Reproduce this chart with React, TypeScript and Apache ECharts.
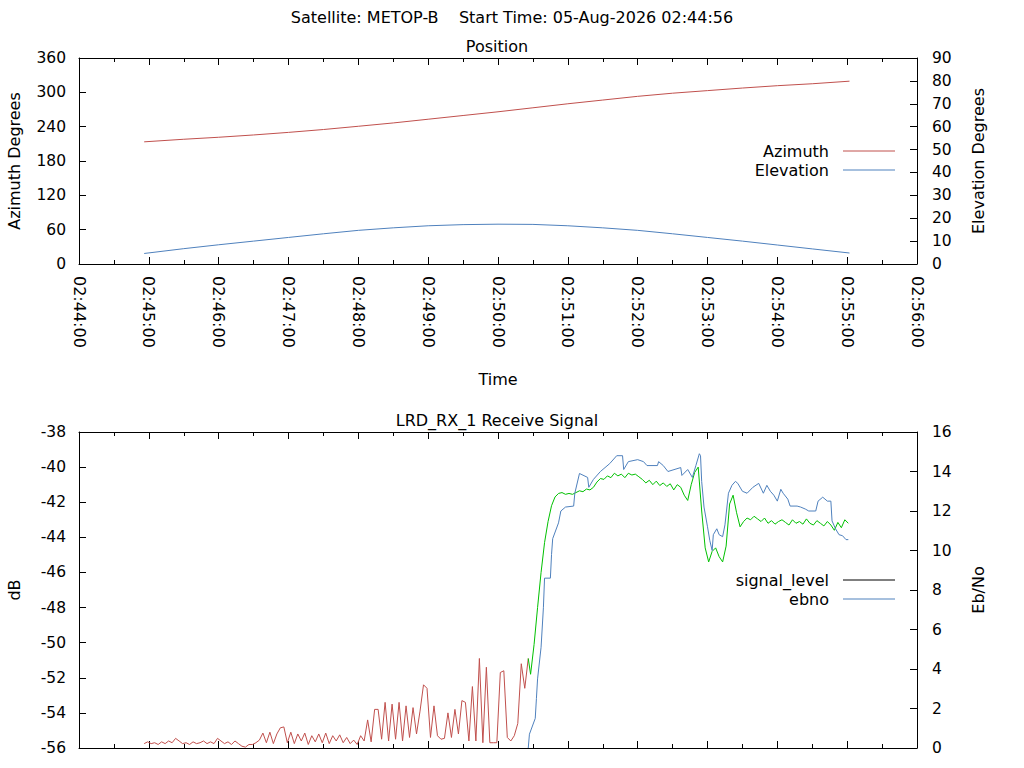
import * as echarts from "echarts";
import { useEffect, useRef } from "react";

// time axis: seconds after 02:44:00
const SAMPLE_STEP = 3;

const posTimes = [56, 90, 120, 150, 180, 210, 240, 270, 300, 330, 360, 390, 420, 450, 480, 510, 540, 570, 600, 630, 662];
const azimuth = [213.5, 218, 221.5, 225.5, 230, 235, 240.7, 246.5, 253, 259.5, 266, 273, 280, 286.5, 293, 298.5, 303, 307.5, 311.6, 315, 319.5];
const elevation = [4.6, 6.7, 8.4, 10.0, 11.6, 13.2, 14.7, 15.8, 16.7, 17.2, 17.4, 17.3, 16.7, 15.8, 14.7, 13.2, 11.6, 10.0, 8.3, 6.6, 4.8];

// signal level before lock (red), sampled every 3 s from 02:44:56
const UNLOCKED_START = 56;
const signalUnlocked = [
  -55.75, -55.65, -55.75, -55.7, -55.8, -55.65, -55.75, -55.6, -55.7, -55.45,
  -55.6, -55.75, -55.7, -55.8, -55.65, -55.75, -55.7, -55.6, -55.75, -55.65,
  -55.75, -55.45, -55.6, -55.75, -55.65, -55.8, -55.6, -55.75, -55.9, -55.95,
  -55.8, -55.8, -55.7, -55.55, -55.15, -55.7, -55.1, -55.75, -55.2, -54.85,
  -54.8, -55.7, -55.1, -55.75, -55.2, -55.6, -55.15, -55.8, -55.3, -55.65,
  -55.2, -55.7, -55.15, -55.75, -55.3, -55.6, -55.25, -55.7, -55.4, -55.75,
  -55.55, -55.8, -55.3, -55.6, -54.4, -55.65, -53.8, -53.8, -55.5, -53.4,
  -55.6, -53.5, -55.5, -53.4, -55.6, -53.6, -55.4, -53.7, -55.2, -53.9,
  -52.4, -52.6, -55.4, -53.6, -55.3, -55.5, -55.45, -54.0, -55.4, -53.8,
  -55.2, -53.3, -53.4, -55.6, -52.5, -55.6, -50.9, -55.7, -51.4, -55.7,
  -55.7, -55.7, -51.7, -51.6, -55.4, -55.6, -55.3, -54.6, -51.2, -52.6,
  -50.9,
];

// signal level once locked (green), sampled every 3 s
const LOCKED_START = 388;
const signalLocked = [
  -51.8, -50.1, -48.0, -46.0, -44.3, -43.1, -42.2, -41.7, -41.5, -41.45,
  -41.55, -41.5, -41.55, -41.45, -41.35, -41.4, -41.25, -41.3, -41.15, -40.85,
  -40.65, -40.7, -40.5, -40.6, -40.35, -40.5, -40.4, -40.6, -40.35, -40.45,
  -40.4, -40.55, -40.7, -40.9, -40.75, -41.0, -40.8, -41.05, -40.9, -41.1,
  -40.95, -41.3, -41.0, -41.15, -41.6, -41.9, -41.0, -40.3, -40.0, -42.5,
  -44.6, -45.4, -44.8, -44.6, -45.1, -45.4, -44.5, -42.1, -41.6, -42.6,
  -43.4, -43.1, -42.9, -43.0, -42.8, -42.95, -43.1, -42.9, -43.2, -43.05,
  -43.25, -43.1, -43.0, -43.15, -43.3, -43.0, -43.2, -43.1, -43.25, -42.95,
  -43.2, -43.3, -43.05, -43.2, -43.35, -43.1, -43.3, -43.6, -43.15, -43.45,
  -43.0, -43.2,
];

const ebnoTimes = [
  386, 387, 392, 393, 394, 397, 399, 400, 405, 406, 407, 412, 414, 418, 425, 426, 430, 437, 438, 442,
  448, 456, 462, 467, 468, 472, 480, 485, 488, 497, 498, 502, 506, 517, 518, 523, 527, 530, 533, 534,
  535, 537, 540, 542, 544, 545, 548, 550, 553, 555, 558, 561, 564, 566, 570, 574, 579, 584, 588, 591,
  594, 597, 600, 603, 605, 609, 611, 617, 620, 624, 627, 633, 635, 639, 643, 646, 647, 650, 653, 656,
  659, 661,
];
const ebnoValues = [
  0, 0.7, 1.5, 2.5, 3.5, 5.1, 7.1, 8.6, 8.6, 9.8, 10.6, 11.4, 12.0, 12.2, 12.25, 12.9, 13.9, 13.7, 13.2, 13.6,
  14.0, 14.4, 14.8, 14.8, 14.1, 14.5, 14.6, 14.5, 14.3, 14.3, 14.5, 14.3, 14.0, 14.2, 13.8, 14.1, 13.7, 14.3, 14.9, 14.8,
  13.5, 12.2, 11.2, 10.5, 10.0, 10.8, 11.1, 10.8, 10.7, 11.3, 12.9, 13.3, 13.5, 13.4, 13.0, 12.9, 13.2, 13.4, 12.9, 13.3,
  13.0, 12.8, 12.5, 13.1, 12.9, 12.6, 12.25, 12.25, 12.2, 12.1, 12.0, 12.0, 12.5, 12.7, 12.5, 12.5, 11.5, 11.1, 10.8, 10.75,
  10.55, 10.55,
];

const RED = "#c0504d";
const BLUE = "#4f81bd";
const GREEN = "#00c000";
const FONT = "DejaVu Sans";
const FS = 16;

const pad = (n: number) => String(n).padStart(2, "0");
const fmtTime = (v: number) => {
  const m = 44 + Math.floor(v / 60);
  const s = v % 60;
  return `02:${pad(m)}:${pad(s)}`;
};

const sampled = (start: number, values: number[]) =>
  values.map((v, i) => [start + i * SAMPLE_STEP, v]);

const txt = (text: string, x: number, y: number, align = "center") => ({
  type: "text",
  x,
  y,
  style: {
    text,
    fill: "#000",
    font: `${FS}px ${FONT}`,
    textAlign: align,
    textVerticalAlign: "middle",
  },
});

const legendLine = (y: number, color: string) => ({
  type: "line",
  shape: { x1: 843, y1: y, x2: 895, y2: y },
  style: { stroke: color, lineWidth: 1 },
});

function timeAxis(gridIndex: number, position: string, labels: boolean, name = "") {
  return {
    type: "value",
    gridIndex,
    position,
    min: 0,
    max: 720,
    interval: 60,
    name,
    nameLocation: "middle",
    nameGap: 107,
    nameTextStyle: { color: "#000", fontSize: FS, fontFamily: FONT },
    axisLine: { show: true, onZero: false, lineStyle: { color: "#000", width: 1 } },
    axisTick: { show: true, inside: true, length: 7, lineStyle: { color: "#000" } },
    minorTick: { show: true, splitNumber: 2, length: 4, lineStyle: { color: "#000" } },
    splitLine: { show: false },
    axisLabel: {
      show: labels,
      rotate: -90,
      margin: 12,
      color: "#000",
      fontSize: FS,
      fontFamily: FONT,
      formatter: fmtTime,
    },
  };
}

function valueAxis(gridIndex: number, position: string, min: number, max: number, interval: number, name: string, gap: number) {
  return {
    type: "value",
    gridIndex,
    position,
    min,
    max,
    interval,
    name,
    nameLocation: "middle",
    nameRotate: 90,
    nameGap: gap,
    nameTextStyle: { color: "#000", fontSize: FS, fontFamily: FONT },
    axisLine: { show: true, onZero: false, lineStyle: { color: "#000", width: 1 } },
    axisTick: { show: true, inside: true, length: 7, lineStyle: { color: "#000" } },
    splitLine: { show: false },
    axisLabel: {
      color: "#000",
      fontSize: 15.5,
      fontFamily: FONT,
      margin: position === "left" ? 13 : 15,
    },
  };
}

const lineSeries = (name: string, data: number[][], color: string, xAxisIndex: number, yAxisIndex: number) => ({
  name,
  type: "line",
  xAxisIndex,
  yAxisIndex,
  data,
  symbol: "none",
  showSymbol: false,
  lineStyle: { color, width: 1 },
  itemStyle: { color },
});

const App = () => {
  const chartRef = useRef<HTMLDivElement>(null);

  useEffect(() => {
    if (!chartRef.current) {
      return;
    }
    const chart = echarts.init(chartRef.current, null, { renderer: "svg" });

    const unlocked = sampled(UNLOCKED_START, signalUnlocked);
    const locked = [unlocked[unlocked.length - 1], ...sampled(LOCKED_START, signalLocked)];

    chart.setOption({
      animation: false,
      backgroundColor: "#fff",
      grid: [
        { left: 79, right: 107, top: 58, height: 206, outerBoundsMode: "none", containLabel: false },
        { left: 79, right: 107, top: 432, height: 316, outerBoundsMode: "none", containLabel: false },
      ],
      xAxis: [
        timeAxis(0, "bottom", true, "Time"),
        timeAxis(0, "top", false),
        timeAxis(1, "bottom", false),
        timeAxis(1, "top", false),
      ],
      yAxis: [
        valueAxis(0, "left", 0, 360, 60, "Azimuth Degrees", 57),
        valueAxis(0, "right", 0, 90, 10, "Elevation Degrees", 53),
        valueAxis(1, "left", -56, -38, 2, "dB", 57),
        valueAxis(1, "right", 0, 16, 2, "Eb/No", 53),
      ],
      series: [
        lineSeries("Azimuth", posTimes.map((t, i) => [t, azimuth[i]]), RED, 0, 0),
        lineSeries("Elevation", posTimes.map((t, i) => [t, elevation[i]]), BLUE, 0, 1),
        lineSeries("signal_level", unlocked, RED, 2, 2),
        lineSeries("signal_level_locked", locked, GREEN, 2, 2),
        lineSeries("ebno", ebnoTimes.map((t, i) => [t, ebnoValues[i]]), BLUE, 2, 3),
      ],
      graphic: [
        txt("Satellite: METOP-B    Start Time: 05-Aug-2026 02:44:56", 512, 17),
        txt("Position", 497, 46),
        txt("LRD_RX_1 Receive Signal", 497, 420),
        txt("Azimuth", 829, 151, "right"),
        legendLine(151, RED),
        txt("Elevation", 829, 170, "right"),
        legendLine(170, BLUE),
        txt("signal_level", 829, 580, "right"),
        legendLine(580, "#000"),
        txt("ebno", 829, 599, "right"),
        legendLine(599, BLUE),
      ],
    });

    return () => {
      chart.dispose();
    };
  }, []);

  return (
    <div
      ref={chartRef}
      style={{ position: "absolute", left: 0, top: 0, width: "1024px", height: "768px" }}
    ></div>
  );
};

export default App;
